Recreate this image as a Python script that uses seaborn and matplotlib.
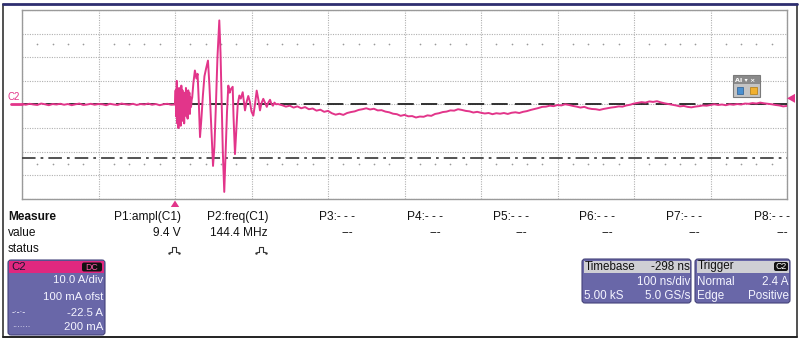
import numpy as np
import pandas as pd
import matplotlib
matplotlib.use("Agg")
import matplotlib.pyplot as plt
from matplotlib.patches import Rectangle, FancyBboxPatch, Polygon
from matplotlib.lines import Line2D
import seaborn as sns

# ---------------- data (time in ns, current in A) ----------------
pre_t = np.arange(0, 200, 5)
pre_i = [0.2, -0.1, 0.3, 0.0, -0.2, 0.4, 0.1, -0.3, 0.2, 0.0,
         0.3, -0.1, 0.2, -0.3, 0.1, 0.4, -0.2, 0.0, 0.3, -0.1,
         0.2, 0.1, -0.3, 0.3, 0.0, -0.2, 0.4, 0.1, -0.1, 0.3,
         -0.2, 0.2, 0.0, 0.4, -0.1, 0.2, -0.3, 0.1, 0.3, -0.1]

burst_t = [200, 200.8, 201.5, 202.3, 203, 203.8, 204.5, 205.3, 206, 206.8,
           207.5, 208.3, 209, 209.8, 210.5, 211.3, 212, 212.8, 213.5, 214.3,
           215, 215.8, 216.5, 217.3, 218, 218.8, 219.5, 220.3, 221, 221.8]
burst_i = [0, 6, -5, 10, -8, 4, -10, 7, -6, 3,
           -9, 8, -4, 6, -7, 2, -8, 5, -3, 7,
           -5, 4, -6, 6, -2, 5, -4, 3, -1, 2]

osc_t = [222.5, 224, 226, 228, 229.5, 231, 232.7, 234.5, 236.5, 238.5,
         240.5, 243.1, 245, 247.5, 249.7, 251.5, 253.5, 255.5, 257.9, 259.5,
         261, 262.5, 264.4, 266, 268, 269.7, 271.5, 273, 275.4, 276.5,
         278.4, 280, 282, 284.1, 286, 288.5, 291.5, 293.5, 295.8, 298,
         300, 302.4, 304.5, 306.8, 309, 311.1, 313, 315.4, 318, 320,
         322, 324.2, 326, 328, 330, 332, 334.6]
osc_i = [3, 9, 14.4, 11, 13, 2, -13.8, -6, 4, 12,
         15, 18.6, 8, -10, -26, -18, 0, 20, 35.6, 22,
         0, -20, -37, -22, -3, 8, 5, 6.5, 7.5, -5,
         -21, -12, 0, 3.8, 2.5, 5.2, -2.5, 1, 3.6, 1,
         -3, -4.7, 0, 5.9, 2, -2.5, 0.5, 2.4, 0.5, -1,
         0.8, 2, 0.3, -0.5, 0.8, 0.1, 0.2]

tail_t = np.arange(340, 1001, 5)
tail_i = [-0.3, -0.9, -0.5, -1.3, -0.8,
          -1.6, -1.1, -2.0, -1.7, -2.6, -2.2,
          -3.1, -2.7, -3.7, -4.3, -3.9,
          -4.4, -3.6, -3.2, -2.9, -2.3, -2.0, -1.6,
          -2.1, -1.8, -2.5, -2.4, -3.0,
          -3.3, -3.9, -4.1, -4.8, -4.4, -5.0, -4.9, -5.5, -5.1,
          -5.2, -4.6, -4.8, -4.0, -3.7, -3.2, -3.0, -2.5, -2.6, -2.0, -2.3,
          -2.7, -2.9, -3.4, -3.1, -3.5, -3.8, -3.6, -4.1, -3.7, -3.9,
          -3.6, -4.0, -3.5, -3.3, -3.6, -3.1,
          -2.8, -2.3, -1.9, -1.5, -1.0, -0.9, -0.5, -0.7, -0.2, -0.4, 0.1, -0.2,
          -0.6, -0.9, -1.3, -1.0, -1.6, -1.9, -2.0, -2.3, -1.9,
          -1.6, -1.3, -1.1, -0.8, -0.9, -0.4, -0.1, 0.4,
          0.7, 1.0, 0.8, 1.3, 1.1, 1.4, 0.9, 0.5,
          0.2, -0.1, -0.4, -0.8, -0.6, -1.0, -1.2, -0.9,
          -0.7, -0.4, -0.5, -0.2, 0.1, -0.2, 0.0, -0.3, 0.1, -0.1,
          0.2, 0.0, 0.4, 0.3, 0.6, 0.4, 0.8, 0.5,
          0.3, 0.1, -0.2, -0.4, -0.8, -0.6]

cursor_dash_A = 0.2
cursor_dashdot_A = -22.5
trigger_level_A = 2.4
trigger_time_ns = 200
dot_rows_A = [25.4, -25.2]

measure_headers = ["P1:ampl(C1)", "P2:freq(C1)", "P3:- - -", "P4:- - -",
                   "P5:- - -", "P6:- - -", "P7:- - -", "P8:- - -"]
measure_values = ["9.4 V", "144.4 MHz", "---", "---", "---", "---", "---", "---"]
measure_status = ["pulse", "pulse", "", "", "", "", "", ""]

c2_lines = ["10.0 A/div", "100 mA ofst", "-22.5 A", "200 mA"]
c2_keys = ["", "", "-·-·-", "·······"]
timebase_rows = [("Timebase", "-298 ns"), ("", "100 ns/div"), ("5.00 kS", "5.0 GS/s")]
trigger_rows = [("Trigger", ""), ("Normal", "2.4 A"), ("Edge", "Positive")]

# ---------------- figure ----------------
sns.set_theme(style="white")
plt.rcParams['font.family'] = ['Liberation Sans', 'DejaVu Sans']

W, H = 800, 340
fig = plt.figure(figsize=(W / 100, H / 100), dpi=100)
fig.patch.set_facecolor("white")

px0, px1, py0, py1 = 22, 787, 10, 199
ax = fig.add_axes([px0 / W, (H - py1) / H, (px1 - px0) / W, (py1 - py0) / H])

trace = pd.DataFrame({
    "t": np.concatenate([pre_t, burst_t, osc_t, tail_t]),
    "i": np.concatenate([pre_i, burst_i, osc_i, tail_i]),
})
pink = "#e2358a"
sns.lineplot(data=trace, x="t", y="i", ax=ax, color=pink, linewidth=1.4,
             estimator=None, sort=False, zorder=5)

ax.set_xlim(0, 1000)
ax.set_ylim(-40, 40)
ax.set_xticks(np.arange(0, 1001, 100))
ax.set_yticks(np.arange(-40, 41, 10))
ax.tick_params(length=0, labelbottom=False, labelleft=False)
ax.set_xlabel("")
ax.set_ylabel("")
ax.grid(True, color="#b0b0b0", linestyle=(0, (1, 1.2)), linewidth=0.8)
for s in ax.spines.values():
    s.set_color("#9a9a9a")
    s.set_linewidth(1.0)

dot_x = [x for x in range(20, 1000, 20) if x % 100]
for yr in dot_rows_A:
    ax.scatter(dot_x, [yr] * len(dot_x), s=1.5, color="#9a9a9a", linewidths=0, zorder=2)

ax.axhline(cursor_dash_A, color="#222222", linewidth=1.3, linestyle=(0, (9, 4)), zorder=3)
ax.axhline(cursor_dashdot_A, color="#444444", linewidth=1.3,
           linestyle=(0, (7.5, 2.8, 1.5, 2.8)), zorder=3)

# ---------------- overlay (pixel coordinates) ----------------
ov = fig.add_axes([0, 0, 1, 1], zorder=10)
ov.set_xlim(0, W)
ov.set_ylim(H, 0)
ov.axis("off")
ov.patch.set_alpha(0)

# outer frame
ov.add_line(Line2D([3, 3], [4, 337], color="#333333", lw=1.2))
ov.add_line(Line2D([797, 797], [4, 337], color="#333333", lw=1.2))
ov.add_line(Line2D([3, 797], [337, 337], color="#222222", lw=1.4))
ov.add_line(Line2D([3, 797], [4, 4], color="#2e2e70", lw=2.0))

# C2 label and ground marker
ov.text(8, 97, "C2", color=pink, fontsize=7, va="center", ha="left")
ov.add_line(Line2D([11, 22], [104, 104], color=pink, lw=2))
# trigger level marker (right)
yl = 104 - trigger_level_A * 2.3625
ov.add_patch(Polygon([[787, yl], [795, yl - 4.5], [795, yl + 4.5]], closed=True,
                     color=pink, lw=0))
# trigger position marker (bottom)
xt = px0 + trigger_time_ns / 1000 * (px1 - px0)
ov.add_patch(Polygon([[xt, 200.5], [xt - 4.2, 207], [xt + 4.2, 207]], closed=True,
                     color=pink, lw=0))

# AI widget
ov.add_patch(Rectangle((733, 75), 27, 22, facecolor="#c4c4c4", edgecolor="#7a7a7a", lw=0.8))
ov.add_patch(Rectangle((733.5, 75.5), 26, 8.5, facecolor="#8a8a8a", edgecolor="none"))
ov.text(735, 80, "AI ▾ ×", color="white", fontsize=4.6, va="center", ha="left",
        family=["DejaVu Sans"], fontweight="bold")
ov.add_patch(Rectangle((737, 87), 6, 7, facecolor="#4a90d0", edgecolor="#2a5a90", lw=0.5))
ov.add_patch(Rectangle((750, 87), 7, 7, facecolor="#f0b030", edgecolor="#b07a10", lw=0.5))

# measurement table
fsm = 8.6
rows_y = [217, 233, 249]
ov.text(8, rows_y[0], "Measure", fontsize=fsm, fontweight="bold", va="center", ha="left", color="#111")
ov.text(8, rows_y[1], "value", fontsize=fsm, va="center", ha="left", color="#111")
ov.text(8, rows_y[2], "status", fontsize=fsm, va="center", ha="left", color="#111")
col_right = [181, 268, 355, 443, 529, 615, 702, 790]
for xr, hd, val, st in zip(col_right, measure_headers, measure_values, measure_status):
    ov.text(xr, rows_y[0], hd, fontsize=fsm, va="center", ha="right", color="#111")
    xv = xr if val != "---" else xr - 2
    ov.text(xv, rows_y[1], val, fontsize=fsm, va="center", ha="right", color="#111")
    if st == "pulse":
        cx, cy = xr - 7, rows_y[2]
        ov.add_line(Line2D([cx - 4, cx - 2, cx - 2, cx + 2, cx + 2, cx + 4],
                           [cy + 2.5, cy + 2.5, cy - 2.5, cy - 2.5, cy + 2.5, cy + 2.5],
                           color="#333", lw=0.8))
        ov.plot([cx - 5, cx + 5], [cy + 3.5, cy + 3.5], ls="none", marker=".",
                ms=1.5, color="#333")

purple = "#6967a8"
body_txt = "#f4f4ff"

# C2 panel
ov.add_patch(FancyBboxPatch((8, 260), 97, 75, boxstyle="round,pad=0,rounding_size=3",
                            facecolor=purple, edgecolor="#45437a", lw=0.8))
ov.add_patch(Rectangle((9, 261), 95, 12, facecolor="#e0287f", edgecolor="none"))
ov.text(11, 267, "C2", fontsize=8.2, va="center", ha="left", color="#1a1430")
ov.add_patch(FancyBboxPatch((82, 262.5), 20, 9, boxstyle="round,pad=0,rounding_size=2",
                            facecolor="#111111", edgecolor="none"))
ov.text(92, 267, "DC", fontsize=6.3, va="center", ha="center", color="#ff5aa8")
c2_y = [280, 296.5, 313, 327.5]
for yy, txt, key in zip(c2_y, c2_lines, c2_keys):
    ov.text(103, yy, txt, fontsize=8.2, va="center", ha="right", color=body_txt)
    if key:
        ov.text(12, yy, key, fontsize=6, va="center", ha="left", color=body_txt,
                family=["DejaVu Sans"])

# Timebase / Trigger panels
def panel(x0, x1, rows, badge=None):
    ov.add_patch(FancyBboxPatch((x0, 259), x1 - x0, 44, boxstyle="round,pad=0,rounding_size=3",
                                facecolor=purple, edgecolor="#45437a", lw=0.8))
    ov.add_patch(Rectangle((x0 + 1.5, 260.5), x1 - x0 - 3, 12, facecolor="#cfcfd4",
                           edgecolor="none"))
    ys = [266.5, 282.3, 296]
    for k, ((lt, rt), yy) in enumerate(zip(rows, ys)):
        col = "#111" if k == 0 else body_txt
        if lt:
            ov.text(x0 + 2.5, yy, lt, fontsize=8.4, va="center", ha="left", color=col)
        if rt:
            ov.text(x1 - 1, yy, rt, fontsize=8.4, va="center", ha="right", color=col)
    if badge:
        ov.add_patch(FancyBboxPatch((x1 - 16, 262), 14, 9, boxstyle="round,pad=0,rounding_size=2",
                                    facecolor="#111111", edgecolor="none"))
        ov.text(x1 - 9, 266.5, badge, fontsize=6.3, va="center", ha="center", color="white")

panel(582, 691, timebase_rows)
panel(695, 790, trigger_rows, badge="C2")

fig.savefig("out.png", dpi=100, facecolor="white")
